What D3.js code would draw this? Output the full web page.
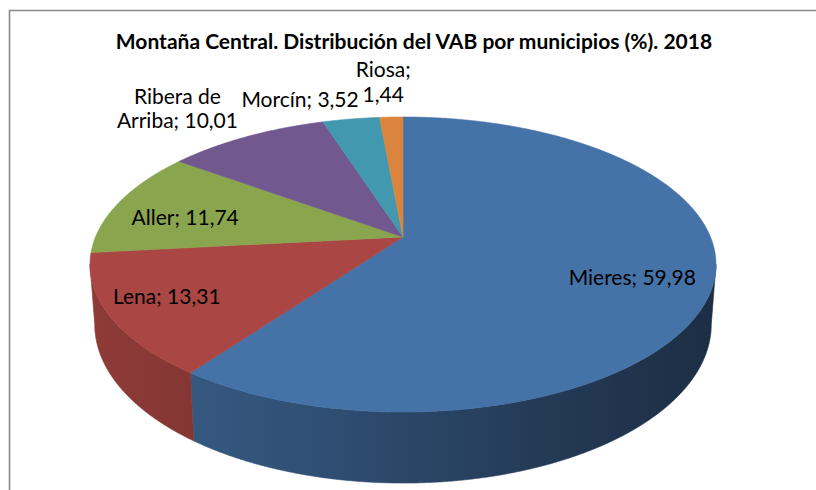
<!DOCTYPE html>
<html>
<head>
<meta charset="utf-8">
<script src="https://cdn.jsdelivr.net/npm/d3@7"></script>
<style>
  html, body { margin: 0; padding: 0; background: #fff; overflow: hidden; }
  svg { display: block; }
  text { font-family: Lato, "Open Sans", sans-serif; fill: #000; }
</style>
</head>
<body>
<svg id="chart" width="816" height="490"></svg>
<script>
// ---- data ----
const title = "Montaña Central. Distribución del VAB por municipios (%). 2018";
const categories = ["Mieres", "Lena", "Aller", "Ribera de Arriba", "Morcín", "Riosa"];
const values = [59.98, 13.31, 11.74, 10.01, 3.52, 1.44];
const colors = ["#4572A7", "#AA4643", "#89A54E", "#71588F", "#4198AF", "#DB843D"];
// label text line breaks (first line ends after this many words)
const labelBreaks = [null, null, null, 2, null, 1];
// label placement: radius factor along mid angle plus offsets
const labelPlace = [
  {r: 0.75, dx: 0, dy: 6, lh: 24},
  {r: 0.82, dx: 0, dy: -4, lh: 24},
  {r: 0.76, dx: 0, dy: 8, lh: 24},
  {r: 1.0, dx: -69, dy: -28, lh: 24},
  {r: 1.0, dx: -51, dy: -19, lh: 24},
  {r: 1.0, dx: -8, dy: -35, lh: 25}
];

// ---- geometry (perspective projection of a tilted disc) ----
const W = 816, H = 490;
const cx = 403, cy = 237;     // apex (pie centre)
const a = 307.5, b = 142.4;   // horizontal / depth scale
const k = -0.1864;            // perspective factor
const D = 57.8, sx = 0.985;   // wall depth, bottom shrink

function proj(theta, r) {
  const u = r * Math.sin(theta), v = -r * Math.cos(theta);
  const den = 1 + k * v;
  return [cx + a * u / den, cy + b * v / den];
}
function projB(theta) {
  const u = Math.sin(theta), v = -Math.cos(theta);
  const den = 1 + k * v;
  return [cx + a * sx * u / den, cy + (b * v + D) / den];
}

const svg = d3.select("#chart");
svg.append("rect").attr("width", W).attr("height", H).attr("fill", "#fff");
svg.append("path")
  .attr("d", `M9.5,${H} L9.5,10.5 L${W},10.5`)
  .attr("fill", "none").attr("stroke", "#8a8a8a").attr("stroke-width", 1.6);

const pie = d3.pie().sort(null).value(d => d);
const arcs = pie(values);

const fmt = v => d3.format(".2f")(v).replace(".", ",");
const step = Math.PI / 720;

function arcPoints(s, e, fn) {
  const pts = [];
  const n = Math.max(2, Math.ceil((e - s) / step));
  for (let i = 0; i <= n; i++) pts.push(fn(s + (e - s) * i / n));
  return pts;
}

// gradients for walls
const defs = svg.append("defs");
const shade = (c, f) => { const q = d3.rgb(c); return d3.rgb(q.r * f, q.g * f, q.b * f).formatHex(); };
colors.forEach((c, i) => {
  const g = defs.append("linearGradient").attr("id", "wall" + i)
    .attr("gradientUnits", "userSpaceOnUse")
    .attr("x1", 89).attr("x2", 716).attr("y1", 0).attr("y2", 0);
  [[0, 0.84], [0.35, 0.7], [0.5, 0.62], [0.75, 0.5], [1, 0.4]].forEach(([o, f]) =>
    g.append("stop").attr("offset", o).attr("stop-color", shade(c, f)));
});

// visible wall range (front half between silhouette extremes)
const thR = Math.PI / 2 + Math.asin(-k);
const thL = 3 * Math.PI / 2 - Math.asin(-k);
const line = d3.line();

const walls = svg.append("g");
arcs.forEach((d, i) => {
  const s = Math.max(d.startAngle, thR), e = Math.min(d.endAngle, thL);
  if (e <= s) return;
  const top = arcPoints(s, e, t => proj(t, 1));
  const bot = arcPoints(s, e, projB).reverse();
  walls.append("path")
    .attr("d", line(top.concat(bot)) + "Z")
    .attr("fill", `url(#wall${i})`)
    .attr("stroke", `url(#wall${i})`).attr("stroke-width", 0.6);
});

const tops = svg.append("g");
arcs.forEach((d, i) => {
  const pts = [[cx, cy]].concat(arcPoints(d.startAngle, d.endAngle, t => proj(t, 1)));
  tops.append("path")
    .attr("d", line(pts) + "Z")
    .attr("fill", colors[i])
    .attr("stroke", colors[i]).attr("stroke-width", 0.6);
});

// labels
const labels = svg.append("g").attr("font-size", 21);
arcs.forEach((d, i) => {
  const mid = (d.startAngle + d.endAngle) / 2;
  const p = labelPlace[i];
  const [x, y] = proj(mid, p.r);
  const full = categories[i] + "; " + fmt(values[i]);
  let lines = [full];
  if (labelBreaks[i] != null) {
    const words = full.split(" ");
    lines = [words.slice(0, labelBreaks[i]).join(" "), words.slice(labelBreaks[i]).join(" ")];
  }
  const lh = p.lh;
  const t = labels.append("text")
    .attr("text-anchor", "middle")
    .attr("x", x + p.dx).attr("y", y + p.dy - (lines.length - 1) * lh / 2);
  lines.forEach((l, j) => t.append("tspan")
    .attr("x", x + p.dx).attr("dy", j === 0 ? "0.35em" : lh).text(l));
});

svg.append("text")
  .attr("x", 414).attr("y", 49)
  .attr("text-anchor", "middle")
  .attr("font-size", 21).attr("font-weight", "bold")
  .text(title);
</script>
</body>
</html>
